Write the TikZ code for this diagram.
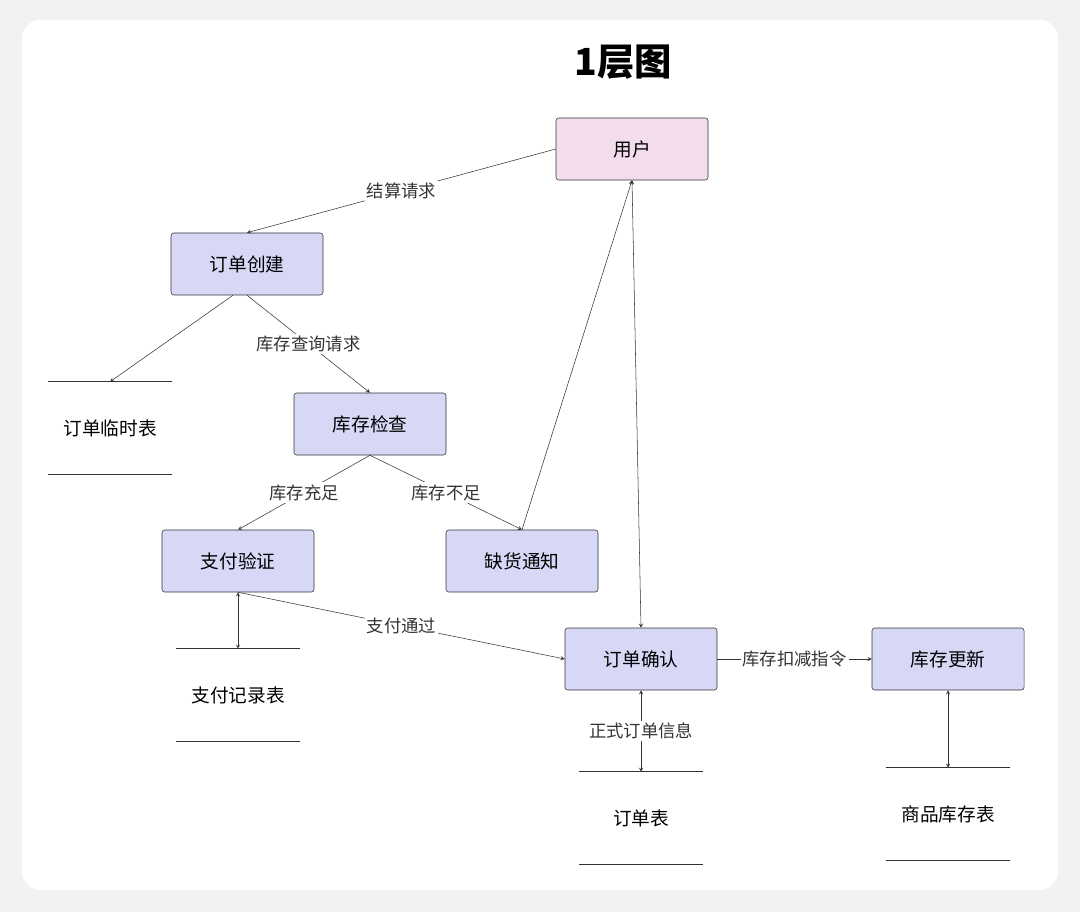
\documentclass[tikz,border=0pt]{standalone}
\usepackage{fontspec}
\setmainfont{Noto Sans CJK SC}
\usepackage{tikz}
\usetikzlibrary{arrows,shapes}
\usepackage{xcolor}
\definecolor{procfill}{HTML}{D6D8F5}
\definecolor{userfill}{HTML}{F3DDED}
\definecolor{edgecol}{HTML}{333333}
\begin{document}
\begin{tikzpicture}[x=0.75pt,y=-0.75pt,>=stealth,font=\fontsize{13}{15}\selectfont]
\tikzstyle{proc}=[rectangle,rounded corners=2pt,draw=edgecol,fill=procfill,minimum width=114pt,minimum height=46.5pt,font=\fontsize{14}{16}\selectfont]
\tikzstyle{store}=[minimum width=92pt,minimum height=69pt,font=\fontsize{14}{16}\selectfont]
\tikzstyle{lbl}=[fill=white,inner sep=1.5pt,text=edgecol]
\tikzstyle{flow}=[->,draw=edgecol,thin]
  \fill[black!5](0,0)rectangle(1080,912);
  \useasboundingbox(0,0)rectangle(1080,912);
  \fill[white,rounded corners=14pt](22,20)rectangle(1058,890);
  \node(title)at(623,62)[font=\bfseries\fontsize{28}{32}\selectfont]{1层图};
  \node(user)at(632,149)[proc,fill=userfill]{用户};
  \node(create)at(247,264)[proc]{订单创建};
  \node(check)at(370,424)[proc]{库存检查};
  \node(pay)at(238,561)[proc]{支付验证};
  \node(lack)at(522,561)[proc]{缺货通知};
  \node(confirm)at(641,659)[proc]{订单确认};
  \node(update)at(948,659)[proc]{库存更新};
  \node(tmp)at(110,428)[store]{订单临时表};
  \node(payrec)at(238,695)[store]{支付记录表};
  \node(order)at(641,818)[store]{订单表};
  \node(stock)at(948,814)[store]{商品库存表};
  % data stores
  \foreach \s in {tmp,payrec,order,stock}{
    \draw[edgecol](\s.north west)--(\s.north east);
    \draw[edgecol](\s.south west)--(\s.south east);
  }
  \draw[flow](user.west)--node[lbl]{结算请求}(create.north);
  \draw[flow](create.south)++(-14,0)--(tmp.north);
  \draw[flow](create.south)--node[lbl]{库存查询请求}(check.north);
  \draw[flow](check.south)--node[lbl]{库存充足}(pay.north);
  \draw[flow](check.south)--node[lbl]{库存不足}(lack.north);
  \draw[flow](lack.north)--(user.south);
  \draw[<->,draw=edgecol,thin](user.south)--(confirm.north);
  \draw[<->,draw=edgecol,thin](pay.south)--(payrec.north);
  \draw[flow](pay.south)--node[lbl]{支付通过}(confirm.west);
  \draw[flow](confirm.east)--node[lbl]{库存扣减指令}(update.west);
  \draw[<->,draw=edgecol,thin](confirm.south)--node[lbl]{正式订单信息}(order.north);
  \draw[<->,draw=edgecol,thin](update.south)--(stock.north);
\end{tikzpicture}
\end{document}
